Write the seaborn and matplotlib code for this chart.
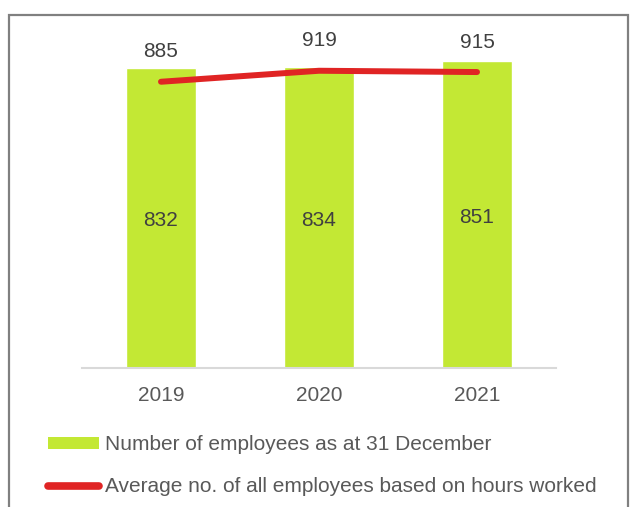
import matplotlib
matplotlib.use("Agg")
import matplotlib.pyplot as plt
from matplotlib.patches import Patch, Rectangle
from matplotlib.lines import Line2D
import pandas as pd
import seaborn as sns

years = ["2019", "2020", "2021"]
headcount_dec31 = [832, 834, 851]
avg_by_hours = [885, 919, 915]
series_labels = [
    "Number of employees as at 31 December",
    "Average no. of all employees based on hours worked",
]

BAR_GREEN = "#C3E834"
LINE_RED = "#E02424"
TEXT = "#404040"
FS = 15

sns.set_theme(style="white")
plt.rcParams["font.family"] = ["Liberation Sans", "DejaVu Sans"]

df = pd.DataFrame({"year": years, "headcount": headcount_dec31, "avg": avg_by_hours})

W, H = 630, 507
fig = plt.figure(figsize=(W / 100, H / 100), dpi=100)
ax = fig.add_axes([82 / W, (H - 368) / H, (556 - 82) / W, (368 - 30) / H])

sns.barplot(data=df, x="year", y="headcount", color=BAR_GREEN, width=0.44,
            saturation=1, ax=ax)
ax.set_ylim(0, 937)
ax.set_xlim(-0.5, 2.5)

# values inside bars
for cont in ax.containers:
    ax.bar_label(cont, labels=[str(v) for v in headcount_dec31], label_type="center",
                 fontsize=FS, color=TEXT, padding=-2)

ax2 = ax.twinx()
sns.pointplot(data=df, x="year", y="avg", color=LINE_RED, markers="",
              linestyles="-", lw=4.3, solid_capstyle="round", ax=ax2)
ax2.set_ylim(0, 1045)
ax2.set_xlim(-0.5, 2.5)
for i, v in enumerate(avg_by_hours):
    ax2.annotate(str(v), (i, v), xytext=(0, 30), textcoords="offset pixels",
                 ha="center", va="center", fontsize=FS, color=TEXT)

for a in (ax, ax2):
    a.set_xlabel("")
    a.set_ylabel("")
    a.set_yticks([])
    for s in ("left", "right", "top"):
        a.spines[s].set_visible(False)
    a.patch.set_visible(False)
ax2.spines["bottom"].set_visible(False)
ax.spines["bottom"].set_color("#D9D9D9")
ax.spines["bottom"].set_linewidth(1.5)
ax.tick_params(axis="x", length=0, pad=13, labelsize=FS, labelcolor="#595959")

handles = [
    Patch(facecolor=BAR_GREEN, edgecolor="none"),
    Line2D([], [], color=LINE_RED, lw=5.5, solid_capstyle="round"),
]
fig.legend(handles, series_labels, loc="upper left",
           bbox_to_anchor=(48 / W, (H - 435) / H), frameon=False,
           fontsize=FS, labelcolor="#595959", handlelength=2.45,
           handleheight=0.5, handletextpad=0.29, labelspacing=1.12,
           borderpad=0, borderaxespad=0)

# outer frame
fig.add_artist(Rectangle((9 / W, -0.1), (628 - 9) / W, 0.1 + (H - 15) / H,
                         transform=fig.transFigure, fill=False,
                         edgecolor="#808080", lw=1.6))

fig.savefig("out.png", dpi=100)
